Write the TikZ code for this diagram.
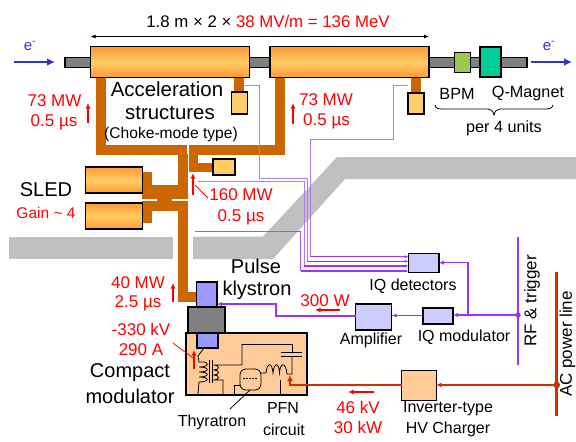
\documentclass[tikz,border=0pt]{standalone}
\usepackage{fontspec}
\setmainfont{Liberation Sans}
\usetikzlibrary{arrows.meta}
\definecolor{wg}{HTML}{CC6600}
\definecolor{floorgray}{HTML}{C0C0C0}
\definecolor{pur}{HTML}{9933FF}
\definecolor{lpur}{HTML}{AE7BF5}
\definecolor{acred}{HTML}{CC3300}
\definecolor{beam}{HTML}{3333CC}
\definecolor{orA}{HTML}{FF9933}
\definecolor{orB}{HTML}{FFCC66}
\definecolor{peach}{HTML}{FFCC99}
\definecolor{klyb}{HTML}{9999FF}
\definecolor{ctl}{HTML}{CCCCFF}
\definecolor{pipe}{HTML}{808080}
\tikzset{
  fs/.style={font=\fontsize{#1}{#1}\selectfont},
  lab/.style={inner sep=0pt,fs=#1},
  lab/.default=16.5,
  rlab/.style={lab=17,text=red},
  box/.style={draw=black,line width=1.1pt,inner sep=0pt,outer sep=0pt},
  rfsect/.style={box,top color=orA,bottom color=orA,middle color=orB},
  load/.style={box,fill=orB},
  ctlbox/.style={box,fill=ctl},
  wguide/.style={fill=wg,draw=none},
  fl/.style={fill=floorgray,draw=none},
  purw/.style={draw=pur,line width=#1},
  purw/.default=1.8pt,
  monw/.style={draw=lpur,line width=1pt},
  mona/.style={draw=pur,line width=1.1pt,-{Latex[length=3.5pt,width=3pt]}},
  powa/.style={red,line width=1.2pt,-{Latex[length=5.5pt,width=5pt]}},
  lead/.style={red,line width=.8pt},
  ckt/.style={black,line width=.8pt},
  pipew/.style={box,fill=pipe}
}
\begin{document}
\begin{tikzpicture}[x=1pt,y=-1pt]
\clip (0,0) rectangle (576,442);
\fill[white] (0,0) rectangle (576,442);
% floor
\fill[fl] (9,236.5) rectangle (173,259);
\fill[fl] (193,236.5) -- (263,236.5) -- (337,157) -- (576,157) -- (576,179) -- (345,179) -- (273,259) -- (193,259) -- cycle;
% waveguides
\fill[wguide] (96,77) rectangle (106,154.5);
\fill[wguide] (96,145) rectangle (187,154.5);
\fill[wguide] (189,145) rectangle (285,154.5);
\fill[wguide] (275,77) rectangle (285,154.5);
\fill[wguide] (178,154) rectangle (187.5,198.5);
\fill[wguide] (189,154) rectangle (198,172);
\fill[wguide] (189,162.5) rectangle (214,172);
\fill[wguide] (234,77) rectangle (244,93);
\fill[wguide] (411,77) rectangle (421,94);
\fill[wguide] (142,172) rectangle (152,198.5);
\fill[wguide] (142,185) rectangle (187.5,198.5);
\fill[wguide] (157,198) rectangle (172,211);
\fill[wguide] (142,208) rectangle (152,223);
\fill[wguide] (142,201) rectangle (178,211);
\fill[wguide] (157,201) rectangle (187.5,211);
\fill[wguide] (178,201) rectangle (187.5,302);
\fill[wguide] (178,292) rectangle (197,302);
\fill[white] (142,198.5) rectangle (157,201);
% beam pipe
\node[pipew,minimum width=462pt,minimum height=10.5pt] (beampipe) at (296,62.5) {};
% boxes
\node[rfsect,minimum width=159pt,minimum height=31pt] (s1) at (170,62) {};
\node[rfsect,minimum width=159pt,minimum height=31pt] (s2) at (349.5,62) {};
\node[box,fill={rgb,255:red,153;green,204;blue,77},minimum width=15.5pt,minimum height=20.5pt] (bpm) at (462.5,62.3) {};
\node[box,fill={rgb,255:red,0;green,204;blue,153},minimum width=21pt,minimum height=30pt] (qm) at (490.5,62) {};
\node[load,minimum width=15.5pt,minimum height=22pt] (l1) at (239.5,103) {};
\node[load,minimum width=16pt,minimum height=21pt] (l2) at (416,103.5) {};
\node[load,minimum width=22pt,minimum height=16pt] (l3) at (224,167) {};
\node[rfsect,minimum width=56.5pt,minimum height=26pt] (sl1) at (113.8,180) {};
\node[rfsect,minimum width=56.5pt,minimum height=26pt] (sl2) at (113.8,216) {};
% monitor wires
\coordinate (m1s) at (408,85); \coordinate (m2s) at (245,85);
\coordinate (m3s) at (198,181); \coordinate (m4s) at (195,231);
\node[ctlbox,minimum width=30.5pt,minimum height=19.5pt] (iqd) at (423.7,263) {};
\coordinate (d1) at (iqd.west |- 0,256.7);
\coordinate (d2) at (iqd.west |- 0,261.3);
\coordinate (d3) at (iqd.west |- 0,266);
\coordinate (d4) at (iqd.west |- 0,271);
\draw[monw] (m1s) -- (393,85) -- (393,139) -- (310,139) -- (310,256.7);
\draw[monw] (m2s) -- (259,85) -- (259,178) -- (307,178) -- (307,261.3);
\draw[monw] (m3s) -- (304,181) -- (304,266);
\draw[draw=pur!85,line width=1pt] (m4s) -- (300.5,231) -- (300.5,271);
\draw[mona] (310,256.7) -- (d1);
\draw[mona] (307,261.3) -- (d2);
\draw[mona] (304,266) -- (d3);
\draw[mona] (300.5,271) -- (d4);
% klystron and modulator
\node[box,fill=peach,line width=1.3pt,minimum width=121pt,minimum height=62pt] (mod) at (246.5,364) {};
\node[box,fill=pipe,minimum width=37pt,minimum height=26pt] (kbody) at (206.5,320) {};
\node[box,fill=klyb,minimum width=20.5pt,minimum height=25pt] (ktop) at (206.7,294.5) {};
\node[box,fill=klyb,minimum width=21pt,minimum height=15pt] (kbot) at (207.5,340.5) {};
% control chain
\node[ctlbox,minimum width=36pt,minimum height=26pt] (amp) at (373.7,317) {};
\node[ctlbox,minimum width=30pt,minimum height=16pt] (iqm) at (438,316) {};
\coordinate (rfT) at (518,237); \coordinate (rfB) at (518,365);
\coordinate (rfD) at (518,315);
\coordinate (tap) at (468,315);
\draw[purw=2pt] (rfT) -- (rfB);
\fill[pur] (rfD) circle (2.7pt);
\draw[purw,-{Latex[length=5pt,width=4.5pt]}] (rfD) -- (iqm.east |- rfD);
\draw[purw,line width=1.4pt,-{Latex[length=5pt,width=4.5pt]}] (tap) -- (468,262.7) -- (iqd.east |- 0,262.7);
\draw[purw,-{Latex[length=5pt,width=4.5pt]}] (iqm.west |- 0,315.5) -- (amp.east |- 0,315.5);
\draw[purw,-{Latex[length=5pt,width=4.5pt]}] (amp.west |- 0,316) -- (276,316) -- (276,304) -- (ktop.east |- 0,304);
% AC lines
\coordinate (acT) at (556.7,272); \coordinate (acB) at (556.7,416);
\coordinate (acD) at (556.7,385);
\node[box,fill=peach,minimum width=34.5pt,minimum height=29.5pt,line width=1.1pt] (chg) at (419,385.3) {};
\draw[acred,line width=3pt] (acT) -- (acB);
\fill[acred] (acD) circle (3.4pt);
\draw[acred,line width=2.4pt,-{Latex[length=5pt,width=5pt]}] (acD) -- (chg.east |- acD);
\coordinate (pfnin) at (290,375);
\draw[acred,line width=2.4pt,-{Latex[length=6pt,width=6pt]}] (chg.west |- acD) -- (290,385) -- (pfnin);
% circuit
\draw[ckt] (204,348) -- (198,356) -- (199,362)
  .. controls (210,361) and (210,367) .. (199,367)
  .. controls (210,367) and (210,372) .. (199,372)
  .. controls (210,372) and (210,377) .. (199,377)
  .. controls (210,377) and (210,382) .. (199,382) -- (198,394);
\draw[ckt,line width=1pt] (209,360) -- (209,383) (212,360) -- (212,383);
\draw[ckt] (242,344) -- (242,365) -- (213.5,365)
  .. controls (220,365) and (220,370) .. (214,370)
  .. controls (220,370) and (220,375) .. (214,375)
  .. controls (220,375) and (220,380) .. (214,380) -- (223,380) -- (223,394);
\draw[ckt] (242,344) -- (292,344) -- (292,352);
\draw[ckt,line width=1pt] (281,352) -- (302,352) (281,356) -- (302,356);
\draw[ckt] (292,356) -- (292,374) -- (287,374)
  .. controls (286,362) and (280,362) .. (279.5,373)
  .. controls (279,362) and (274,362) .. (273,373)
  .. controls (272,362) and (267,362) .. (266,373) -- (261,373);
\draw[ckt] (234,394) -- (234,385) -- (240,385);
\draw[ckt,rounded corners=6pt] (240,369) rectangle (261,390);
\draw[ckt,dashed,dash pattern=on 2pt off 1pt] (243,378) -- (258,378);
\coordinate (thyL) at (230,409); \coordinate (thyP) at (250,390);
\draw[ckt] (thyL) -- (thyP);
\coordinate (pfnL) at (280,380); \coordinate (pfnB) at (280,394);
\draw[ckt] (pfnL) -- (pfnB);
% beam arrows
\coordinate (ba1) at (14,62); \coordinate (ba2) at (55,62);
\coordinate (ba3) at (531,62); \coordinate (ba4) at (572,62);
\draw[beam,line width=2.2pt,-{Latex[length=8pt,width=8pt]}] (ba1) -- (ba2);
\draw[beam,line width=2.2pt,-{Latex[length=8pt,width=8pt]}] (ba3) -- (ba4);
\node[lab=15,text=beam] (em1) at (30,46) {e\textsuperscript{-}};
\node[lab=15,text=beam] (em2) at (549,46) {e\textsuperscript{-}};
% dimension
\draw[black,line width=.8pt,{Latex[length=5pt,width=4pt]}-{Latex[length=5pt,width=4pt]}] (s1.west |- 0,36.5) -- (s2.east |- 0,36.5);
\node[lab=16.8] (dim) at (268,21) {1.8 m × 2 × \textcolor{red}{38 MV/m = 136 MeV}};
% power arrows
\draw[powa] (88,123) -- (88,103);
\draw[powa] (293,124) -- (293,103);
\draw[powa] (193,195) -- (193,173);
\draw[lead] (208,198) -- (195,185);
\draw[powa] (173,302) -- (173,283);
\draw[powa] (194,369) -- (194,350);
\draw[lead] (173,343) -- (193,358);
\draw[powa] (340,310) -- (315,310);
\draw[powa] (374,392) -- (348,392);
% brace
\draw[black,line width=.8pt] (435,105) .. controls (436,109) and (438,109) .. (445,109) -- (488,109) .. controls (491,109) and (493,111) .. (494,115) .. controls (495,111) and (497,109) .. (500,109) -- (543,109) .. controls (549,109) and (552,109) .. (553,105);
% texts
\node[lab=20.4] (t1) at (167,89) {Acceleration};
\node[lab=20.4] (t2) at (170,113) {structures};
\node[lab=15.6] (t3) at (171,134) {(Choke-mode type)};
\node[rlab] (p1) at (54.5,101) {73 MW};
\node[rlab] (p2) at (54,122) {0.5 µs};
\node[rlab] (p3) at (326,100) {73 MW};
\node[rlab] (p4) at (326.5,121) {0.5 µs};
\node[lab=16.2] (t4) at (457,94) {BPM};
\node[lab=16.2] (t5) at (528,94) {Q-Magnet};
\node[lab=16.2] (t6) at (504,128) {per 4 units};
\node[lab=20] (t7) at (46,190) {SLED};
\node[lab=15.5,text=red] (t8) at (46,213) {Gain \textasciitilde{} 4};
\node[rlab] (p5) at (241,195) {160 MW};
\node[rlab] (p6) at (241,217) {0.5 µs};
\node[lab=20] (t9) at (256,266) {Pulse};
\node[lab=20] (t10) at (257,290) {klystron};
\node[rlab] (p7) at (138,283) {40 MW};
\node[rlab] (p8) at (138,303) {2.5 µs};
\node[rlab] (p9) at (141,329) {-330 kV};
\node[rlab] (p10) at (141,350) {290 A};
\node[lab=20] (t11) at (130,373) {Compact};
\node[lab=20] (t12) at (130,396) {modulator};
\node[rlab] (p11) at (325,301) {300 W};
\node[lab=16] (t13) at (371,340) {Amplifier};
\node[lab=16] (t14) at (464,337) {IQ modulator};
\node[lab=16] (t15) at (413,286) {IQ detectors};
\node[lab=17,rotate=90] (t16) at (532,301) {RF \& trigger};
\node[lab=17,rotate=90] (t17) at (567.5,344) {AC power line};
\node[lab=16] (t18) at (212,422) {Thyratron};
\node[lab=16] (t19) at (283,408) {PFN};
\node[lab=16] (t20) at (284,430) {circuit};
\node[rlab] (p12) at (358,407) {46 kV};
\node[rlab] (p13) at (358,427) {30 kW};
\node[lab=16] (t21) at (448,409) {Inverter-type};
\node[lab=16] (t22) at (448,429) {HV Charger};
\end{tikzpicture}
\end{document}
